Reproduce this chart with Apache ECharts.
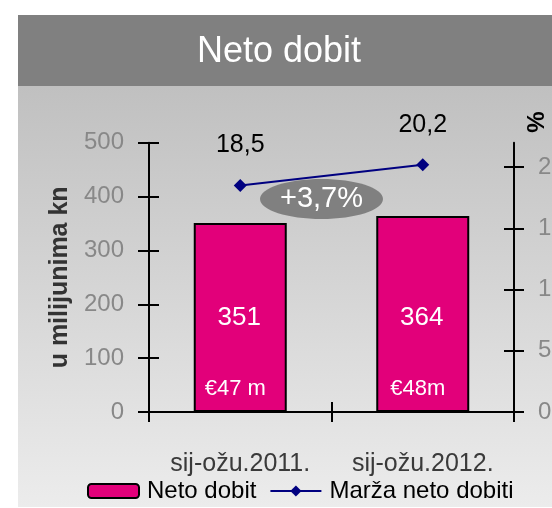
<!DOCTYPE html>
<html>
<head>
<meta charset="utf-8">
<script src="https://cdn.jsdelivr.net/npm/echarts@6/dist/echarts.min.js"></script>
<style>html,body{margin:0;padding:0;background:#fff;}#c{width:552px;height:508px;}</style>
</head>
<body>
<div id="c"></div>
<script>
var categories = ['sij-ožu.2011.', 'sij-ožu.2012.'];
var netProfit = [351, 364];
var euroLabels = ['€47 m', '€48m'];
var margin = [18.5, 20.2];
var leftTicks = [0, 100, 200, 300, 400, 500];
var rightTicks = [0, 5, 10, 15, 20];
var title = 'Neto dobit';
var changeLabel = '+3,7%';

var FONT = 'Liberation Sans, Arial, sans-serif';
var chart = echarts.init(document.getElementById('c'), null, {renderer: 'canvas'});
var axisLineStyle = {color: '#000', width: 2};

var option = {
  backgroundColor: '#ffffff',
  animation: false,
  textStyle: {fontFamily: FONT},
  graphic: [
    {type: 'rect', z: -10, silent: true, shape: {x: 18, y: 15, width: 534, height: 71}, style: {fill: '#808080'}},
    {type: 'rect', z: -10, silent: true, shape: {x: 18, y: 86, width: 534, height: 421},
      style: {fill: new echarts.graphic.LinearGradient(0, 0, 0, 1, [{offset: 0, color: '#c0c0c0'}, {offset: 1, color: '#ececec'}])}},
    {type: 'text', z: 10, silent: true, x: 279, y: 52,
      style: {text: title, fill: '#ffffff', font: '36px ' + FONT, textAlign: 'center', textVerticalAlign: 'middle'}},
    {type: 'ellipse', z: 5, silent: true, shape: {cx: 321.5, cy: 199, rx: 61.5, ry: 20}, style: {fill: '#808080'}},
    {type: 'text', z: 6, silent: true, x: 321.5, y: 199,
      style: {text: changeLabel, fill: '#ffffff', font: '29px ' + FONT, textAlign: 'center', textVerticalAlign: 'middle'}},
    {type: 'text', z: 10, silent: true, x: 537.5, y: 122, rotation: Math.PI / 2,
      style: {text: '%', fill: '#000', font: 'bold 24px ' + FONT, textAlign: 'center', textVerticalAlign: 'middle'}}
  ],
  legend: {
    left: 82, top: 474,
    itemWidth: 51, itemHeight: 14, itemGap: 13,
    data: ['Neto dobit', 'Marža neto dobiti'],
    textStyle: {fontSize: 24, color: '#000', fontFamily: FONT, padding: [0, 0, 0, 3]}
  },
  grid: {left: 149, right: 38, top: 142.7, bottom: 96, containLabel: false, outerBoundsMode: 'none'},
  xAxis: [
    {type: 'category', data: categories, position: 'bottom',
      axisLine: {show: true, lineStyle: axisLineStyle},
      axisTick: {show: true, length: 10, inside: false, interval: 0, lineStyle: {color: '#000', width: 2}},
      axisLabel: {margin: 40, fontSize: 25, color: '#3a3a3a', fontFamily: FONT, interval: 0},
      splitLine: {show: false}},
    {type: 'category', data: categories, position: 'bottom', gridIndex: 0,
      axisLine: {show: false},
      axisTick: {show: true, length: 10, inside: true, interval: 0, lineStyle: {color: '#000', width: 2}},
      axisLabel: {show: false}, splitLine: {show: false}}
  ],
  yAxis: [
    {type: 'value', position: 'left', min: 0, max: 500, interval: 100,
      name: 'u milijunima kn', nameLocation: 'middle', nameRotate: 90, nameGap: 76,
      nameTextStyle: {fontSize: 25, fontWeight: 'bold', color: '#333333', fontFamily: FONT},
      axisLine: {show: true, lineStyle: axisLineStyle},
      axisTick: {show: true, length: 11, inside: false, lineStyle: {color: '#000', width: 2}},
      axisLabel: {margin: 25, fontSize: 24, color: '#888888', fontFamily: FONT},
      splitLine: {show: false}},
    {type: 'value', position: 'right', min: 0, max: 22,
      axisLine: {show: true, onZero: false, lineStyle: axisLineStyle},
      axisTick: {show: true, length: 10, inside: false, customValues: rightTicks, lineStyle: {color: '#000', width: 2}},
      axisLabel: {margin: 24, fontSize: 24, color: '#888888', fontFamily: FONT, customValues: rightTicks, hideOverlap: false},
      splitLine: {show: false}},
    {type: 'value', position: 'left', min: 0, max: 500, interval: 100,
      axisLine: {show: false},
      axisTick: {show: true, length: 10, inside: true, lineStyle: {color: '#000', width: 2}},
      axisLabel: {show: false}, splitLine: {show: false}},
    {type: 'value', position: 'right', min: 0, max: 22,
      axisLine: {show: false},
      axisTick: {show: true, length: 10, inside: true, customValues: rightTicks, lineStyle: {color: '#000', width: 2}},
      axisLabel: {show: false}, splitLine: {show: false}}
  ],
  series: [
    {name: 'Neto dobit', type: 'bar', xAxisIndex: 0, yAxisIndex: 0, data: netProfit, barWidth: 93, z: 3,
      itemStyle: {color: '#e2007a', borderColor: '#000', borderWidth: 2},
      label: {show: true, position: 'insideBottom', distance: 81, offset: [-1, 0], fontSize: 26, color: '#fff', fontFamily: FONT}},
    {name: 'euro', type: 'bar', xAxisIndex: 0, yAxisIndex: 0, data: netProfit, barWidth: 93, barGap: '-100%', z: 4,
      itemStyle: {color: 'rgba(0,0,0,0)', borderWidth: 0},
      label: {show: true, position: 'insideBottom', distance: 12, offset: [-5, 0], fontSize: 22, color: '#fff', fontFamily: FONT,
        formatter: function (p) { return euroLabels[p.dataIndex]; }}},
    {name: 'Marža neto dobiti', type: 'line', xAxisIndex: 0, yAxisIndex: 1, data: margin, z: 6,
      symbol: 'diamond', symbolSize: 13,
      lineStyle: {color: '#000080', width: 2}, itemStyle: {color: '#000080'},
      label: {show: true, position: 'top', distance: 21, fontSize: 25, color: '#000', fontFamily: FONT,
        formatter: function (p) { return p.value.toFixed(1).replace('.', ','); }}}
  ]
};
chart.setOption(option);
</script>
</body>
</html>
